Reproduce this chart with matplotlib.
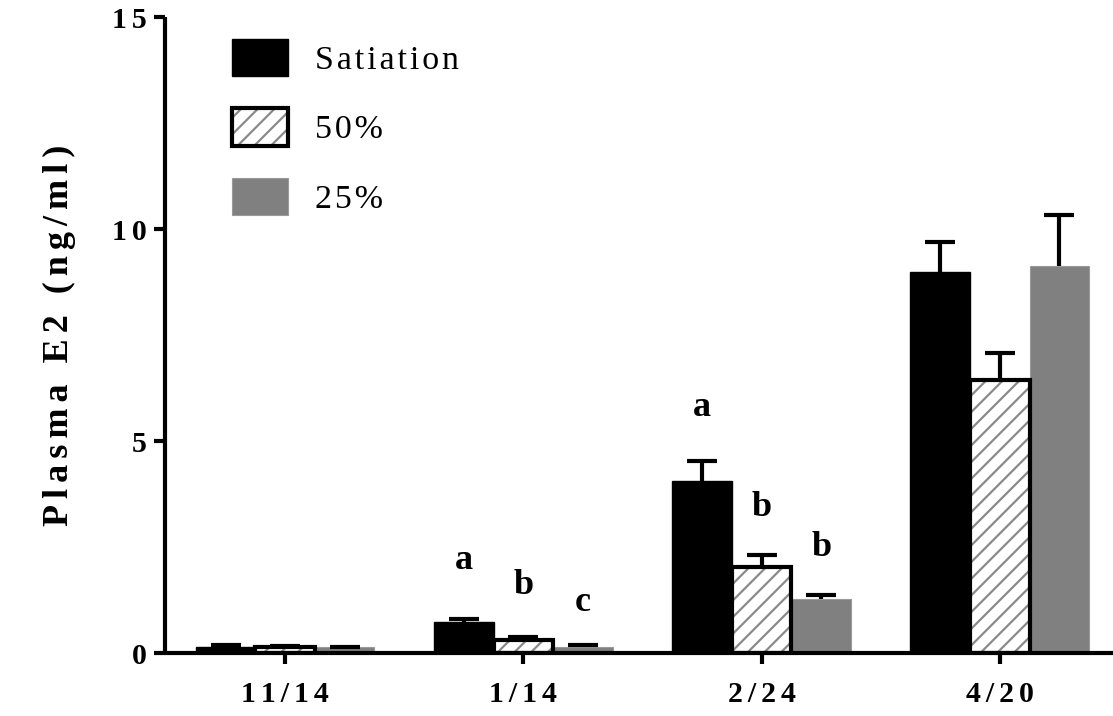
import matplotlib
matplotlib.use("Agg")
import matplotlib.pyplot as plt
from matplotlib.patches import Patch
import numpy as np

# ---- data -------------------------------------------------------------
dates = ["11/14", "1/14", "2/24", "4/20"]
series_names = ["Satiation", "50%", "25%"]
satiation = [0.15, 0.73, 4.06, 8.99]
satiation_err = [0.03, 0.07, 0.47, 0.70]
half = [0.13, 0.31, 2.03, 6.44]
half_err = [0.03, 0.07, 0.27, 0.64]
quarter = [0.13, 0.15, 1.27, 9.13]
quarter_err = [0.02, 0.04, 0.10, 1.20]
sig_letters = [["", "", ""], ["a", "b", "c"], ["a", "b", "b"], ["", "", ""]]
sig_heights = [[0, 0, 0], [2.19, 1.60, 1.20], [5.80, 3.42, 2.50], [0, 0, 0]]
yticks = [0, 5, 10, 15]

SERIF = ["Liberation Serif", "DejaVu Serif"]
HAIR = "\u200a"
WIDE = HAIR * 2


def spaced(s, sep=HAIR):
    return sep.join(s)


plt.rcParams["hatch.linewidth"] = 1.6

fig = plt.figure(figsize=(11.13, 7.16), dpi=100)
ax = fig.add_axes([165 / 1113, 1 - 653 / 716, 948 / 1113, 636 / 716])

x = np.arange(len(dates))
w = 0.25
offsets = [-w, 0.0, w]

# Satiation: solid black
ax.bar(x + offsets[0], satiation, width=w, color="black", edgecolor="black",
       linewidth=1, zorder=2)
# 50%: grey diagonal hatch with black outline
ax.bar(x + offsets[1], half, width=w, facecolor="white", edgecolor="#8a8a8a",
       linewidth=0, hatch="//", zorder=2)
ax.bar(x + offsets[1], half, width=w, fill=False, edgecolor="black",
       linewidth=3, zorder=3)
# 25%: solid grey
ax.bar(x + offsets[2], quarter, width=w, color="#808080", edgecolor="#9a9a9a",
       linewidth=0.8, zorder=2)

# upper-only error bars (the cap sitting on the bar top is hidden)
for off, vals, errs in zip(offsets, [satiation, half, quarter],
                           [satiation_err, half_err, quarter_err]):
    _, caps, _ = ax.errorbar(x + off, vals, yerr=[np.zeros(len(errs)), errs],
                             fmt="none", ecolor="black", elinewidth=3,
                             capsize=10.5, capthick=3, zorder=4)
    for cap in caps:
        if np.allclose(cap.get_ydata(), vals):
            cap.set_visible(False)

# significance letters
for i in range(len(dates)):
    for j, off in enumerate(offsets):
        if sig_letters[i][j]:
            ax.text(x[i] + off, sig_heights[i][j], sig_letters[i][j],
                    ha="center", va="center", fontsize=26, fontweight="bold",
                    family=SERIF)

ax.set_xlim(-0.504, 3.475)
ax.set_ylim(0, 15)
ax.set_xticks(x)
ax.set_xticklabels([spaced(d, WIDE) for d in dates], fontsize=21.5,
                   fontweight="bold", family=SERIF)
ax.set_yticks(yticks)
ax.set_yticklabels([spaced(str(t), WIDE) for t in yticks], fontsize=21.5,
                   fontweight="bold", family=SERIF)

for side in ["top", "right"]:
    ax.spines[side].set_visible(False)
for side in ["left", "bottom"]:
    ax.spines[side].set_linewidth(3)
    ax.spines[side].set_capstyle("butt")
ax.tick_params(axis="both", width=3, length=8, color="black")
ax.tick_params(axis="x", pad=12)
ax.tick_params(axis="y", pad=5)

ax.set_ylabel(spaced("Plasma E2 (ng/ml)", WIDE), fontsize=26,
              fontweight="bold", family=SERIF)
ax.yaxis.set_label_coords(-0.094, 0.5)

# legend
h_sat = Patch(facecolor="black", edgecolor="black", linewidth=1)
h_half = (Patch(facecolor="white", edgecolor="#8a8a8a", linewidth=0, hatch="//"),
          Patch(fill=False, edgecolor="black", linewidth=3))
h_q = Patch(facecolor="#808080", edgecolor="#9a9a9a", linewidth=0.8)
leg = ax.legend([h_sat, h_half, h_q], [spaced(s) for s in series_names],
                loc="upper left", bbox_to_anchor=(232 / 1113, 1 - 39 / 716),
                bbox_transform=fig.transFigure, frameon=False, borderpad=0,
                borderaxespad=0, handlelength=1.65, handleheight=1.3,
                handletextpad=0.8, labelspacing=0.95,
                prop={"family": SERIF, "size": 24.5})

fig.savefig("out.png", dpi=100)
